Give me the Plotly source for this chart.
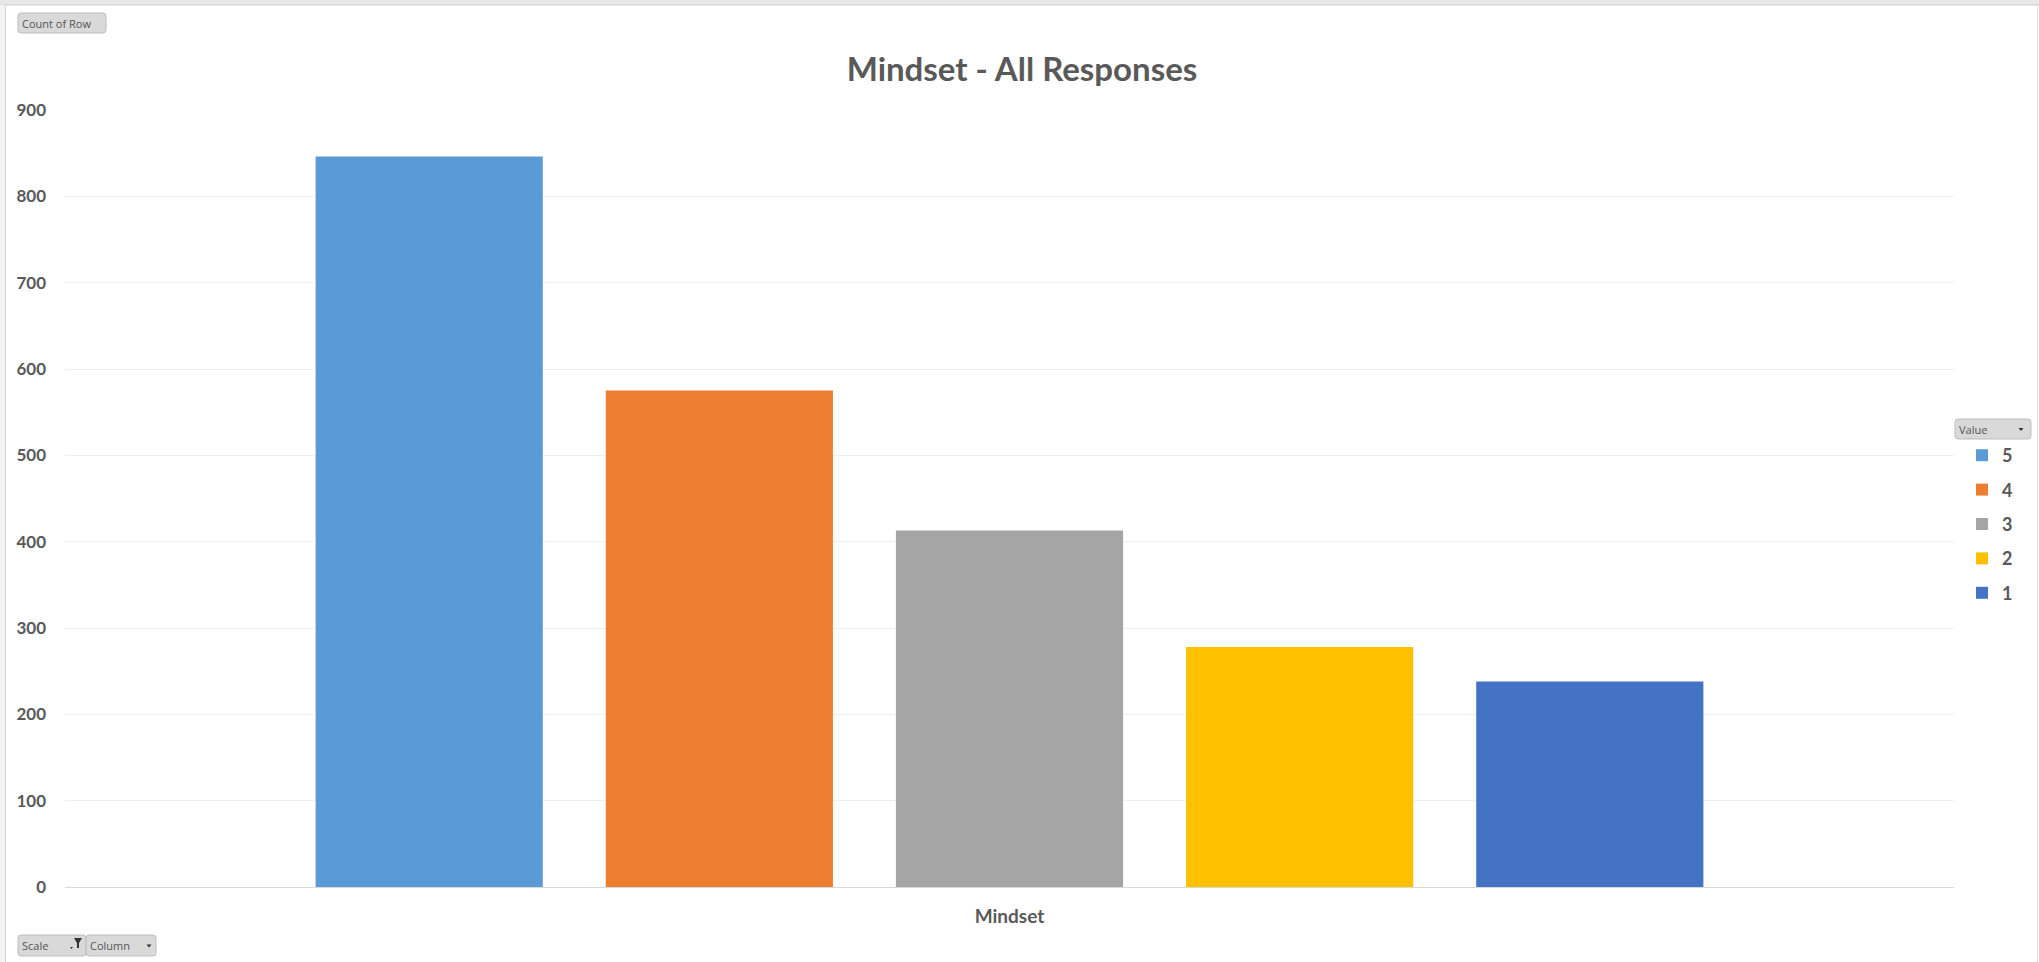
import plotly.graph_objects as go

categories = ["Mindset"]
series_names = ["5", "4", "3", "2", "1"]
series_values = [846, 575, 413, 278, 238]
series_colors = ["#5B9BD5", "#ED7D31", "#A5A5A5", "#FFC000", "#4472C4"]
y_ticks = [0, 100, 200, 300, 400, 500, 600, 700, 800, 900]

W, H = 2039, 962
L, R, T, B = 65, 85, 110, 75
PW, PH = W - L - R, H - T - B

def px(x):
    return (x - L) / PW

def py(y):
    return (H - B - y) / PH

FONT = "Lato"
GREY = "#595959"

fig = go.Figure()
for name, val, col in zip(series_names, series_values, series_colors):
    fig.add_trace(go.Bar(
        x=categories, y=[val], name=name, marker=dict(color=col, line=dict(width=0)),
        legendgroup=name,
    ))

shapes = []
annotations = []

def button(x0, y0, x1, y1, label, arrow=None, funnel=None):
    r = 3
    path = (f"M {px(x0+r)},{py(y0)} L {px(x1-r)},{py(y0)} Q {px(x1)},{py(y0)} {px(x1)},{py(y0+r)} "
            f"L {px(x1)},{py(y1-r)} Q {px(x1)},{py(y1)} {px(x1-r)},{py(y1)} "
            f"L {px(x0+r)},{py(y1)} Q {px(x0)},{py(y1)} {px(x0)},{py(y1-r)} "
            f"L {px(x0)},{py(y0+r)} Q {px(x0)},{py(y0)} {px(x0+r)},{py(y0)} Z")
    shapes.append(dict(type="path", path=path, xref="paper", yref="paper",
                       fillcolor="#d9d9d9", line=dict(color="#bdbdbd", width=1), layer="above"))
    annotations.append(dict(text=label, x=px(x0 + 2), y=py((y0 + y1) / 2), xref="paper", yref="paper",
                            xanchor="left", yanchor="middle", showarrow=False,
                            font=dict(family="Open Sans", size=11, color="#555555")))
    if arrow is not None:
        ax = arrow
        ym = (y0 + y1) / 2
        tri = f"M {px(ax-2.5)},{py(ym-1)} L {px(ax+2.5)},{py(ym-1)} L {px(ax)},{py(ym+2)} Z"
        shapes.append(dict(type="path", path=tri, xref="paper", yref="paper",
                           fillcolor="#333333", line=dict(width=0), layer="above"))
    if funnel is not None:
        fx = funnel
        fun = (f"M {px(fx-4)},{py(y0+3)} L {px(fx+4)},{py(y0+3)} L {px(fx+1)},{py(y0+8)} "
               f"L {px(fx+1)},{py(y0+13)} L {px(fx-1)},{py(y0+13)} L {px(fx-1)},{py(y0+8)} Z")
        shapes.append(dict(type="path", path=fun, xref="paper", yref="paper",
                           fillcolor="#333333", line=dict(width=0), layer="above"))
        tri = f"M {px(fx-8)},{py(y0+12)} L {px(fx-5)},{py(y0+12)} L {px(fx-6.5)},{py(y0+14)} Z"
        shapes.append(dict(type="path", path=tri, xref="paper", yref="paper",
                           fillcolor="#333333", line=dict(width=0), layer="above"))

button(18, 13, 106, 33, "Count of Row")
button(18, 935, 86, 956, "Scale", funnel=78)
button(86, 935, 156, 956, "Column", arrow=149)
button(1955, 419, 2031, 439, "Value", arrow=2021)

# frame
shapes.append(dict(type="rect", xref="paper", yref="paper", x0=px(0), x1=px(W), y0=py(0), y1=py(5),
                   fillcolor="#e8e8e8", line=dict(width=0), layer="below"))
shapes.append(dict(type="line", xref="paper", yref="paper", x0=px(0), x1=px(W), y0=py(5), y1=py(5),
                   line=dict(color="#cccccc", width=1), layer="below"))
shapes.append(dict(type="rect", xref="paper", yref="paper", x0=px(0), x1=px(5), y0=py(5), y1=py(H),
                   fillcolor="#f2f2f2", line=dict(width=0), layer="below"))
shapes.append(dict(type="line", xref="paper", yref="paper", x0=px(5.5), x1=px(5.5), y0=py(5), y1=py(H),
                   line=dict(color="#d4d4d4", width=1), layer="below"))
shapes.append(dict(type="line", xref="paper", yref="paper", x0=px(2037.5), x1=px(2037.5), y0=py(5), y1=py(H),
                   line=dict(color="#e0e0e0", width=1), layer="below"))

fig.update_layout(
    width=W, height=H,
    margin=dict(l=L, r=R, t=T, b=B, autoexpand=False),
    paper_bgcolor="white", plot_bgcolor="white",
    barmode="group", bargap=0.232, bargroupgap=0.217,
    title=dict(text="<b>Mindset - All Responses</b>", x=1022 / W, xref="container", xanchor="center",
               y=1 - 69 / H, yref="container", yanchor="middle",
               font=dict(family=FONT, size=33, color=GREY)),
    font=dict(family=FONT, color=GREY),
    xaxis=dict(showgrid=False, showline=False, zeroline=False, ticks="", ticklabelstandoff=16,
               tickfont=dict(family=FONT, size=19, color=GREY),
               tickvals=categories, ticktext=[f"<b>{c}</b>" for c in categories]),
    yaxis=dict(range=[0, 900], tickvals=y_ticks, ticktext=[f"<b>{v}</b>" for v in y_ticks],
               showgrid=True, gridcolor="#efefef", gridwidth=1,
               zeroline=True, zerolinecolor="#d9d9d9", zerolinewidth=1,
               showline=False, ticks="", ticklabelstandoff=18,
               tickfont=dict(family=FONT, size=17, color=GREY)),
    legend=dict(x=px(1962), y=py(437), xanchor="left", yanchor="top",
                font=dict(family=FONT, size=18, color=GREY),
                itemwidth=30, tracegroupgap=8, bgcolor="rgba(0,0,0,0)", traceorder="grouped"),
    shapes=shapes, annotations=annotations,
)
for tr in fig.data:
    tr.name = f"<b>{tr.name}</b>"

fig.write_html("out.html", config={"displayModeBar": False},
               post_script="document.body.style.margin='0px';document.body.style.overflow='hidden';")
